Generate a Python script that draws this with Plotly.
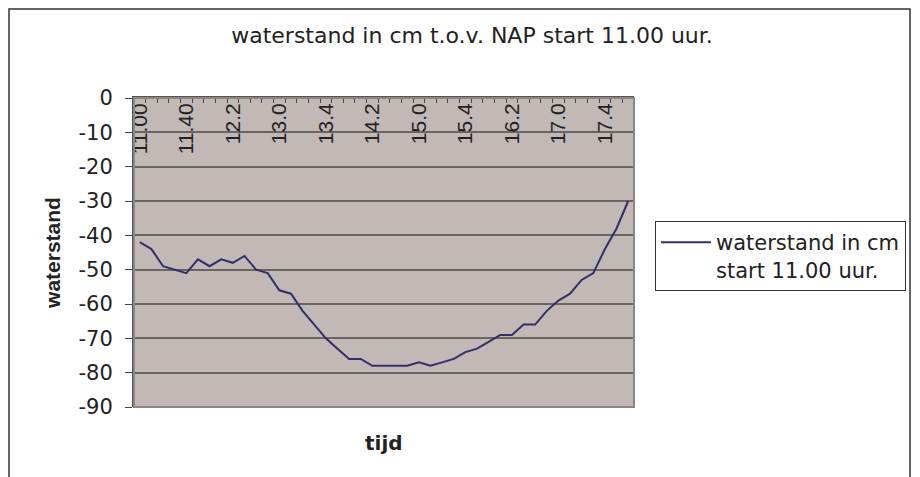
import plotly.graph_objects as go

# ---- data ----
tijd = ["11.00", "11.10", "11.20", "11.30", "11.40", "11.50",
        "12.0", "12.1", "12.2", "12.3", "12.4", "12.5",
        "13.0", "13.1", "13.2", "13.3", "13.4", "13.5",
        "14.0", "14.1", "14.2", "14.3", "14.4", "14.5",
        "15.0", "15.1", "15.2", "15.3", "15.4", "15.5",
        "16.0", "16.1", "16.2", "16.3", "16.4", "16.5",
        "17.0", "17.1", "17.2", "17.3", "17.4", "17.5", "18.0"]
waterstand = [-42, -44, -49, -50, -51, -47,
              -49, -47, -48, -46, -50, -51,
              -56, -57, -62, -66, -70, -73,
              -76, -76, -78, -78, -78, -78,
              -77, -78, -77, -76, -74, -73,
              -71, -69, -69, -66, -66, -62,
              -59, -57, -53, -51, -44, -38, -30]
y_ticks = [0, -10, -20, -30, -40, -50, -60, -70, -80, -90]
label_step = 4
series_name = "waterstand in cm<br>start 11.00 uur."
title_text = "waterstand in cm t.o.v. NAP start 11.00 uur."

x_idx = list(range(len(tijd)))
label_idx = x_idx[::label_step]

# the page body has an 8px margin, so work in coordinates shifted by 8px
OFF = 8
W, H = 920 - OFF, 477 - OFF
L, R, T, B = 134 - OFF, 634 - OFF, 98 - OFF, 407 - OFF   # plot area in pixels
pw, ph = R - L, B - T

def px(x):
    return (x - OFF - L) / pw

def py(y):
    return (B - (y - OFF)) / ph

HFONT = "DejaVu Sans"
RFONT = "Liberation Sans"
TXT = "#222222"

fig = go.Figure()
fig.add_trace(go.Scatter(
    x=x_idx, y=waterstand, mode="lines", name=series_name,
    line=dict(color="#30306a", width=2),
    showlegend=True,
))

fig.update_layout(
    width=W, height=H,
    margin=dict(l=L, r=W - R, t=T, b=H - B),
    paper_bgcolor="white",
    plot_bgcolor="#c2b9b6",
    title=dict(text=title_text, x=(472 - OFF) / W, xref="container", xanchor="center",
               y=1 - (35 - OFF) / H, yref="container", yanchor="middle",
               font=dict(family=HFONT, size=22, color=TXT)),
    showlegend=True,
    legend=dict(x=px(655), y=py(221), xanchor="left", yanchor="top",
                bgcolor="white", bordercolor="#333333", borderwidth=1,
                font=dict(family=HFONT, size=21, color=TXT),
                valign="top", itemwidth=50, tracegroupgap=0),
    xaxis=dict(range=[-0.5, len(tijd) - 0.5], side="top",
               tickmode="array", tickvals=label_idx,
               ticktext=[tijd[i] for i in label_idx],
               tickangle=-90, ticks="", ticklabelposition="inside",
               ticklabeloverflow="allow", ticklabelstandoff=-5,
               tickfont=dict(family=RFONT, size=21, color=TXT),
               minor=dict(ticks="inside", tickmode="linear", tick0=-0.5, dtick=1,
                          ticklen=5, tickcolor="#444444", tickwidth=1, showgrid=False),
               showgrid=False, zeroline=False,
               showline=True, linecolor="#555555", linewidth=2),
    yaxis=dict(range=[-90, 0], tickmode="array", tickvals=y_ticks,
               ticktext=[str(v) for v in y_ticks],
               ticks="outside", ticklen=7, tickcolor="#444444", tickwidth=1,
               ticklabelstandoff=8,
               tickfont=dict(family=HFONT, size=21, color=TXT),
               showgrid=True, gridcolor="#6a6462", gridwidth=1.5,
               zeroline=False, showline=True, linecolor="#555555", linewidth=2,
               title=dict(text="waterstand", standoff=12,
                          font=dict(family=RFONT, size=21, color=TXT, weight="bold"))),
    shapes=[
        dict(type="rect", xref="paper", yref="paper", x0=0, x1=1, y0=0, y1=1,
             line=dict(color="#8c8584", width=2), fillcolor="rgba(0,0,0,0)", layer="above"),
        dict(type="rect", xref="paper", yref="paper",
             x0=px(9), x1=px(910), y0=py(490), y1=py(9),
             line=dict(color="#333333", width=1.5), fillcolor="rgba(0,0,0,0)", layer="above"),
    ],
    annotations=[
        dict(text="tijd", xref="paper", yref="paper", x=0.5, y=py(443),
             xanchor="center", yanchor="middle", showarrow=False,
             font=dict(family=HFONT, size=20, color=TXT, weight="bold")),
    ],
)

fig.write_html("out.html")
